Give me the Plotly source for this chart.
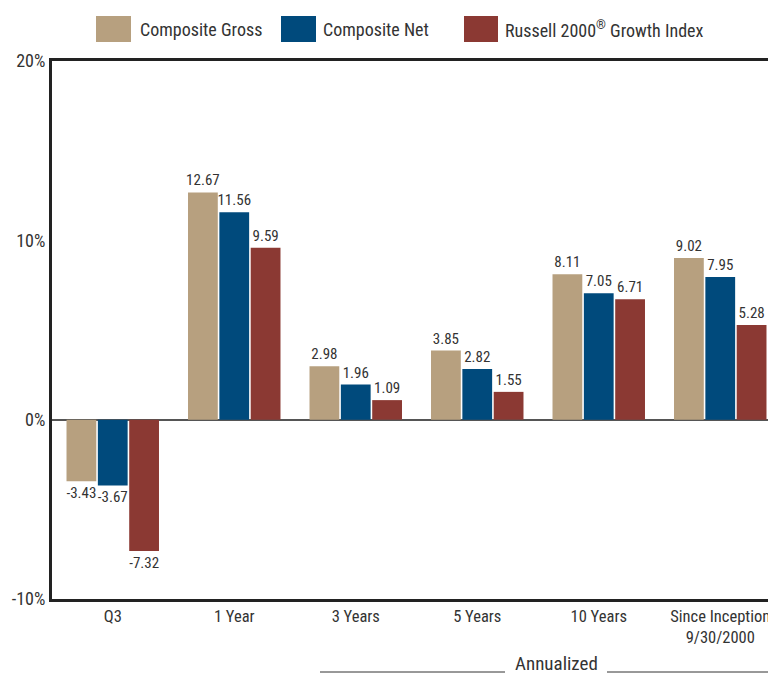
import plotly.graph_objects as go

categories = ["Q3", "1 Year", "3 Years", "5 Years", "10 Years", "Since Inception<br>9/30/2000"]
gross = [-3.43, 12.67, 2.98, 3.85, 8.11, 9.02]
net = [-3.67, 11.56, 1.96, 2.82, 7.05, 7.95]
russell = [-7.32, 9.59, 1.09, 1.55, 6.71, 5.28]
series_names = ["Composite Gross", "Composite Net", "Russell 2000<sup>®</sup> Growth Index"]
y_ticks = [-10, 0, 10, 20]
y_tick_labels = ["-10%", "0%", "10%", "20%"]

colors = ["#B7A07F", "#004A7C", "#8B3933"]
FONT = "Roboto Condensed, Liberation Sans Narrow, DejaVu Sans Condensed, Lato, sans-serif"

# page has an 8px body margin; figure is sized so that it ends at the window edge
W, H = 768, 667
PL, PT, PW, PH = 52, 61, 724, 538  # plot area in page pixels
CAT_W = 121.5  # pixels per category


def px(x):
    return (x - PL) / PW


def py(y):
    return 1 + (PT - y) / PH


fig = go.Figure()
x_idx = list(range(len(categories)))
for name, vals, col in zip(series_names, [gross, net, russell], colors):
    fig.add_trace(go.Bar(
        x=x_idx, y=vals, name=name, marker=dict(color=col, line=dict(width=0)),
        text=[f"{v:.2f}" for v in vals], textposition="outside",
        constraintext="none",
        textfont=dict(family=FONT, size=15, color="#333333"),
        cliponaxis=False, showlegend=False,
    ))

# custom legend
legend_items = [(96, 131, 138), (281, 316, 321), (464, 498, 503)]
for (x0, x1, tx), name, col in zip(legend_items, series_names, colors):
    fig.add_shape(type="rect", xref="paper", yref="paper",
                  x0=px(x0), x1=px(x1), y0=py(42), y1=py(16),
                  fillcolor=col, line=dict(width=0))
    fig.add_annotation(xref="paper", yref="paper", x=px(tx), y=py(29),
                       text=name, showarrow=False,
                       xanchor="left", yanchor="middle",
                       font=dict(family=FONT, size=18, color="#333333"))

# Annualized label
fig.add_annotation(xref="paper", yref="paper", x=px(556), y=py(663),
                   text="Annualized", showarrow=False,
                   xanchor="center", yanchor="middle",
                   font=dict(family=FONT, size=19, color="#333333"))
for a, b in [(320, 505), (607, 776)]:
    fig.add_shape(type="line", xref="paper", yref="paper",
                  x0=px(a), x1=px(b), y0=py(672), y1=py(672),
                  line=dict(color="#333333", width=1))

fig.update_layout(
    width=W, height=H,
    margin=dict(l=PL - 8, r=0, t=PT - 8, b=H - (PT - 8) - PH),
    paper_bgcolor="white", plot_bgcolor="white",
    barmode="group", bargap=0.226, bargroupgap=0.05,
    font=dict(family=FONT, color="#333333"),
    xaxis=dict(range=[-0.5, PW / CAT_W - 0.5], tickvals=x_idx, ticktext=categories,
               showline=True, linecolor="#222222", linewidth=3, mirror=True,
               ticks="", showgrid=False, zeroline=False,
               ticklabeloverflow="allow",
               tickfont=dict(family=FONT, size=16.5, color="#333333")),
    yaxis=dict(range=[-10, 20], tickvals=y_ticks, ticktext=y_tick_labels,
               showline=True, linecolor="#222222", linewidth=3,
               ticks="", showgrid=False, zeroline=True,
               zerolinecolor="#555555", zerolinewidth=1.5,
               tickfont=dict(family=FONT, size=18, color="#333333")),
)

fig.write_html("out.html")
